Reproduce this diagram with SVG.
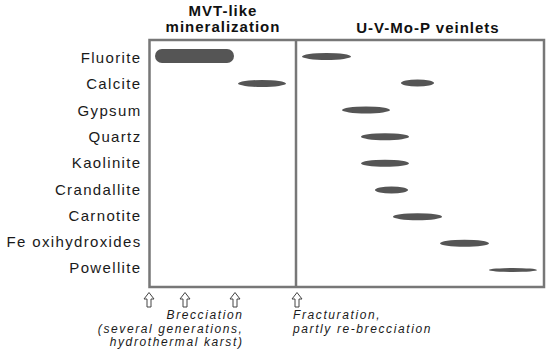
<svg xmlns="http://www.w3.org/2000/svg" width="550" height="355" viewBox="0 0 550 355">
<style>
.lbl{font-family:"Liberation Sans",Arial,sans-serif;font-size:15px;letter-spacing:1.35px;fill:#1a1a1a;text-anchor:end}
.ttl{font-family:"Liberation Sans",Arial,sans-serif;font-size:15px;font-weight:bold;letter-spacing:1px;fill:#111;text-anchor:middle}
.note{font-family:"Liberation Sans",Arial,sans-serif;font-size:12px;font-style:italic;letter-spacing:1.6px;fill:#1a1a1a}
.bar{fill:#555}
.frame{fill:none;stroke:#777;stroke-width:2.5}
.arr{fill:#fff;stroke:#444;stroke-width:1}
</style>
<rect width="550" height="355" fill="#fff"/>
<g id="titles">
<text class="ttl" x="223" y="16">MVT-like</text>
<text class="ttl" x="223" y="32">mineralization</text>
<text class="ttl" x="428" y="33">U-V-Mo-P veinlets</text>
</g>
<g id="frame">
<rect class="frame" x="149.5" y="40" width="394.5" height="247"/>
<line x1="296" y1="40" x2="296" y2="287" stroke="#777" stroke-width="2.5"/>
</g>
<g id="labels">
<text class="lbl" x="141.5" y="63.3">Fluorite</text>
<text class="lbl" x="141.5" y="89.3">Calcite</text>
<text class="lbl" x="141.5" y="115.5">Gypsum</text>
<text class="lbl" x="141.5" y="141.7">Quartz</text>
<text class="lbl" x="141.5" y="168.3">Kaolinite</text>
<text class="lbl" x="141.5" y="195">Crandallite</text>
<text class="lbl" x="141.5" y="221">Carnotite</text>
<text class="lbl" x="141.5" y="247">Fe oxihydroxides</text>
<text class="lbl" x="141.5" y="273">Powellite</text>
</g>
<g id="bars">
<rect class="bar" x="155" y="49" width="79" height="14" rx="7"/>
<ellipse class="bar" cx="262" cy="83.5" rx="24" ry="3.5"/>
<ellipse class="bar" cx="326.5" cy="56.5" rx="24.5" ry="3.5"/>
<ellipse class="bar" cx="417.5" cy="83" rx="16.5" ry="3.5"/>
<ellipse class="bar" cx="366" cy="110" rx="24" ry="3.5"/>
<ellipse class="bar" cx="385" cy="136.7" rx="24" ry="3.5"/>
<ellipse class="bar" cx="385" cy="163.3" rx="24" ry="3.5"/>
<ellipse class="bar" cx="391.5" cy="190" rx="16.5" ry="3.5"/>
<ellipse class="bar" cx="417.5" cy="216.7" rx="24.5" ry="3.5"/>
<ellipse class="bar" cx="464.5" cy="243.3" rx="24.5" ry="3.5"/>
<ellipse class="bar" cx="513" cy="270" rx="24" ry="2"/>
</g>
<g id="connectors">
<path class="arr" d="M149,292.5 L154,299 L151,299 L151,307 L147,307 L147,299 L144,299 Z"/>
<path class="arr" d="M185,292.5 L190,299 L187,299 L187,307 L183,307 L183,299 L180,299 Z"/>
<path class="arr" d="M235,292.5 L240,299 L237,299 L237,307 L233,307 L233,299 L230,299 Z"/>
<path class="arr" d="M297,292.5 L302,299 L299,299 L299,307 L295,307 L295,299 L292,299 Z"/>
</g>
<g id="notes">
<text class="note" x="243.5" y="319" text-anchor="end">Brecciation</text>
<text class="note" x="243.5" y="332.5" text-anchor="end">(several generations,</text>
<text class="note" x="243.5" y="345.5" text-anchor="end">hydrothermal karst)</text>
<text class="note" x="293" y="319">Fracturation,</text>
<text class="note" x="293" y="332.5">partly re-brecciation</text>
</g>
</svg>
